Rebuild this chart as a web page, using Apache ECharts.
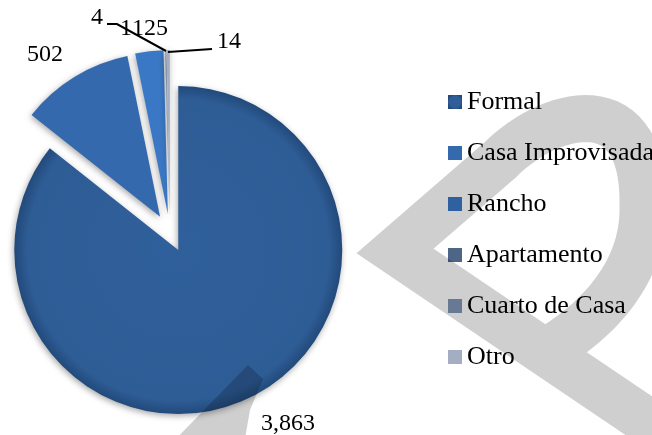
<!DOCTYPE html>
<html>
<head>
<meta charset="utf-8">
<script src="https://cdn.jsdelivr.net/npm/echarts@6/dist/echarts.min.js"></script>
<style>
  html, body { margin: 0; padding: 0; background: #fff; }
  #chart { width: 652px; height: 435px; }
</style>
</head>
<body>
<div id="chart"></div>
<script>
// data
const categories = ['Formal', 'Casa Improvisada', 'Rancho', 'Apartamento', 'Cuarto de Casa', 'Otro'];
const values = [3863, 502, 125, 1, 4, 14];
const sliceColors = ['#2e5c95', '#3569ad', '#3a78c6', '#4d6687', '#8095b5', '#a3aec2'];

// value labels: text centre of each one, plus leader lines for the tiny slices
const labelPos = [[288, 424], [45, 55], [150, 29], [126, 29], [97, 18], [229, 42]];
const leaders = [
  [[107, 24], [117, 24], [166, 51]],
  [[168, 52], [212, 49]]
];

const chart = echarts.init(document.getElementById('chart'), null, { renderer: 'canvas' });
const serif = '"Liberation Serif", "Times New Roman", serif';

// grey watermark stroke in the background of the page (decoration only)
function bez(p0, p1, p2, p3, n) {
  const out = [];
  for (let k = 1; k <= n; k++) {
    const t = k / n, u = 1 - t;
    out.push([
      u*u*u*p0[0] + 3*u*u*t*p1[0] + 3*u*t*t*p2[0] + t*t*t*p3[0],
      u*u*u*p0[1] + 3*u*u*t*p1[1] + 3*u*t*t*p2[1] + t*t*t*p3[1]
    ]);
  }
  return out;
}
const markPts = [[700, 457], [395, 251], [500, 160]]
  .concat(bez([500, 160], [550, 110], [645, 85], [643, 205], 30))
  .concat(bez([643, 205], [645, 270], [600, 320], [545, 352], 20));

const pieData = categories.map((name, i) => ({
  name: name,
  value: values[i],
  selected: true,
  itemStyle: { color: sliceColors[i] }
}));
pieData[0].itemStyle.color = new echarts.graphic.RadialGradient(0.5, 0.5, 0.5, [
  { offset: 0, color: '#30609b' },
  { offset: 0.92, color: '#2e5c95' },
  { offset: 1, color: '#224a7b' }
]);

const labelGraphics = values.map((v, i) => ({
  type: 'text',
  z: 50,
  silent: true,
  x: labelPos[i][0],
  y: labelPos[i][1],
  style: {
    text: v.toLocaleString('en-US'),
    font: '24px ' + serif,
    fill: '#000',
    align: 'center',
    verticalAlign: 'middle'
  }
}));
const leaderGraphics = leaders.map(pts => ({
  type: 'polyline',
  z: 50,
  silent: true,
  shape: { points: pts },
  style: { stroke: '#000', lineWidth: 2, fill: null }
}));

const option = {
  backgroundColor: '#fff',
  animation: false,
  color: sliceColors,
  legend: {
    orient: 'vertical',
    left: 443,
    top: 84,
    itemWidth: 14,
    itemHeight: 14,
    itemGap: 25,
    icon: 'rect',
    textStyle: { fontFamily: serif, fontSize: 26, color: '#000' },
    data: categories
  },
  series: [
    {
      type: 'pie',
      center: [170, 233],
      radius: 164,
      startAngle: 90,
      clockwise: true,
      selectedMode: 'multiple',
      selectedOffset: 19,
      emphasis: { disabled: true },
      itemStyle: {
        shadowBlur: 6,
        shadowColor: 'rgba(0,0,0,0.35)',
        shadowOffsetX: -1,
        shadowOffsetY: 2
      },
      label: { show: false },
      labelLine: { show: false },
      data: pieData
    }
  ],
  graphic: [
    {
      type: 'polyline',
      z: 100,
      silent: true,
      shape: { points: markPts },
      style: { fill: null, stroke: 'rgba(0,0,0,0.19)', lineWidth: 47, lineJoin: 'miter', lineCap: 'butt' }
    },
    {
      type: 'polygon',
      z: 100,
      silent: true,
      shape: { points: [[165, 450], [248, 365], [263, 379], [250, 410], [243, 450]] },
      style: { fill: 'rgba(0,0,0,0.19)' }
    }
  ].concat(labelGraphics, leaderGraphics)
};

chart.setOption(option);
</script>
</body>
</html>
